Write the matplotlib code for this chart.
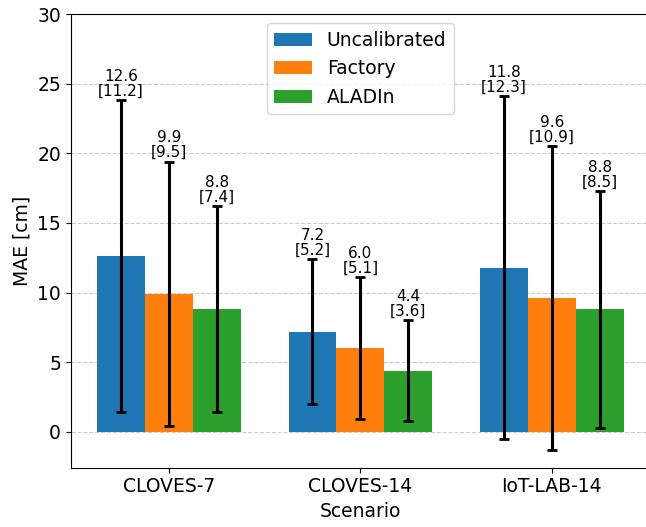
import numpy as np
import matplotlib.pyplot as plt

scenarios = ["CLOVES-7", "CLOVES-14", "IoT-LAB-14"]
methods = ["Uncalibrated", "Factory", "ALADIn"]
mae_mean = {
    "Uncalibrated": [12.6, 7.2, 11.8],
    "Factory": [9.9, 6.0, 9.6],
    "ALADIn": [8.8, 4.4, 8.8],
}
mae_std = {
    "Uncalibrated": [11.2, 5.2, 12.3],
    "Factory": [9.5, 5.1, 10.9],
    "ALADIn": [7.4, 3.6, 8.5],
}

fig = plt.figure(figsize=(6.46, 5.27), dpi=100)
ax = fig.add_axes([0.1095, 0.1125, 0.8967, 0.8609])

x = np.arange(len(scenarios))
width = 0.25
for i, m in enumerate(methods):
    pos = x + (i - 1) * width
    ax.bar(pos, mae_mean[m], width, label=m)
    ax.errorbar(pos, mae_mean[m], yerr=mae_std[m], fmt="none", ecolor="black",
                elinewidth=2.2, capsize=3.5, capthick=2)
    for px, mu, sd in zip(pos, mae_mean[m], mae_std[m]):
        ax.annotate(f"{mu:.1f}\n[{sd:.1f}]", (px, mu + sd), xytext=(0, 1),
                    textcoords="offset points", ha="center", va="bottom",
                    fontsize=11, linespacing=1.0)

ax.set_ylim(top=30)
ax.set_xticks(x)
ax.set_xticklabels(scenarios)
ax.tick_params(axis="both", labelsize=13.5)
ax.set_xlabel("Scenario", fontsize=13.5)
ax.set_ylabel("MAE [cm]", fontsize=13.5)
ax.yaxis.grid(True, linestyle="--", color="#cccccc")
ax.set_axisbelow(True)
ax.legend(loc="upper center", fontsize=13.5)

fig.savefig("out.png")
